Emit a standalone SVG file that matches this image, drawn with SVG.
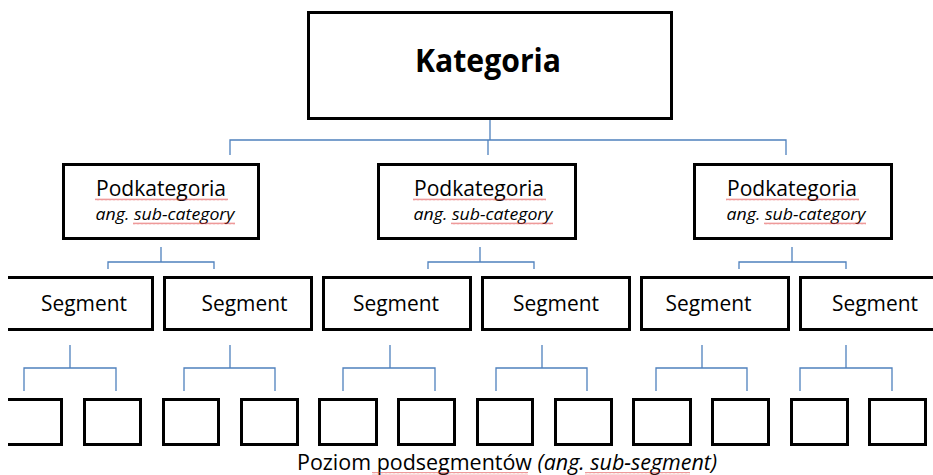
<svg xmlns="http://www.w3.org/2000/svg" width="933" height="475" viewBox="0 0 933 475">
  <style>
    .box { fill: #ffffff; stroke: #000000; stroke-width: 3; }
    .open { fill: none; stroke: #000000; stroke-width: 3; }
    .conn { fill: none; stroke: #4f81bd; stroke-width: 1.3; }
    .t { font-family: "Open Sans", "Noto Sans", "Liberation Sans", sans-serif; fill: #000000; }
    .title { font-size: 32px; font-weight: bold; text-anchor: middle; }
    .sub { font-size: 21px; text-anchor: middle; }
    .note { font-size: 17px; font-style: italic; text-anchor: middle; }
    .seg { font-size: 21.5px; text-anchor: middle; }
    .foot { font-size: 21.5px; }
    .wavy { fill: url(#squiggle); opacity: 0.75; }
  </style>
  <defs>
    <pattern id="squiggle" x="0" y="0" width="4" height="3" patternUnits="userSpaceOnUse">
      <polyline points="0,2.4 1,0.6 2,2.4 3,0.6 4,2.4" fill="none" stroke="#e03c3c" stroke-width="0.7"/>
    </pattern>
  </defs>

  <rect width="933" height="475" fill="#ffffff"/>

  <!-- connectors -->
  <g id="connectors" class="conn">
    <path d="M490,120 V140 M230,155 V140 H786 V155 M488,140 V155"/>
    <path d="M161,247 V262 M108,269 V262 H214 V269"/>
    <path d="M480,247 V262 M428,269 V262 H534 V269"/>
    <path d="M792,247 V262 M739,269 V262 H846 V269"/>
    <path d="M70,345 V368 M24,391 V368 H116 V391"/>
    <path d="M230,345 V368 M184,391 V368 H275 V391"/>
    <path d="M390,345 V368 M343,391 V368 H435 V391"/>
    <path d="M542,345 V368 M496,391 V368 H587 V391"/>
    <path d="M702,345 V368 M656,391 V368 H747 V391"/>
    <path d="M846,345 V368 M800,391 V368 H892 V391"/>
  </g>

  <!-- top level -->
  <g id="kategoria">
    <rect class="box" x="308.5" y="12.5" width="363" height="106"/>
    <text class="t title" x="488" y="72" textLength="146" lengthAdjust="spacingAndGlyphs">Kategoria</text>
  </g>

  <!-- second level -->
  <g id="podkategoria-1">
    <rect class="box" x="63.5" y="164.5" width="195" height="74"/>
    <text class="t sub" x="161" y="196" textLength="130" lengthAdjust="spacingAndGlyphs">Podkategoria</text>
    <text class="t note" x="165" y="220" textLength="139" lengthAdjust="spacingAndGlyphs">ang. sub-category</text>
    <rect class="wavy" x="95" y="198" width="133" height="3"/>
    <rect class="wavy" x="133" y="222" width="102" height="3"/>
  </g>
  <g id="podkategoria-2">
    <rect class="box" x="378.5" y="164.5" width="197" height="74"/>
    <text class="t sub" x="479" y="196" textLength="130" lengthAdjust="spacingAndGlyphs">Podkategoria</text>
    <text class="t note" x="483" y="220" textLength="139" lengthAdjust="spacingAndGlyphs">ang. sub-category</text>
    <rect class="wavy" x="413" y="198" width="133" height="3"/>
    <rect class="wavy" x="451" y="222" width="102" height="3"/>
  </g>
  <g id="podkategoria-3">
    <rect class="box" x="694.5" y="164.5" width="197" height="74"/>
    <text class="t sub" x="792" y="196" textLength="130" lengthAdjust="spacingAndGlyphs">Podkategoria</text>
    <text class="t note" x="796" y="220" textLength="139" lengthAdjust="spacingAndGlyphs">ang. sub-category</text>
    <rect class="wavy" x="726" y="198" width="133" height="3"/>
    <rect class="wavy" x="764" y="222" width="102" height="3"/>
  </g>

  <!-- segments -->
  <g id="segment-1">
    <path class="open" d="M8,277.5 H152.5 V329.5 H8"/>
    <text class="t seg" x="84" y="311" textLength="86" lengthAdjust="spacingAndGlyphs">Segment</text>
  </g>
  <g id="segment-2">
    <rect class="box" x="164.5" y="277.5" width="147" height="52"/>
    <text class="t seg" x="244.5" y="311" textLength="86" lengthAdjust="spacingAndGlyphs">Segment</text>
  </g>
  <g id="segment-3">
    <rect class="box" x="323.5" y="277.5" width="147" height="52"/>
    <text class="t seg" x="396" y="311" textLength="86" lengthAdjust="spacingAndGlyphs">Segment</text>
  </g>
  <g id="segment-4">
    <rect class="box" x="482.5" y="277.5" width="147" height="52"/>
    <text class="t seg" x="556" y="311" textLength="86" lengthAdjust="spacingAndGlyphs">Segment</text>
  </g>
  <g id="segment-5">
    <rect class="box" x="641.5" y="277.5" width="147" height="52"/>
    <text class="t seg" x="708.5" y="311" textLength="86" lengthAdjust="spacingAndGlyphs">Segment</text>
  </g>
  <g id="segment-6">
    <path class="open" d="M935,277.5 H800.5 V329.5 H935"/>
    <text class="t seg" x="875" y="311" textLength="86" lengthAdjust="spacingAndGlyphs">Segment</text>
  </g>

  <!-- sub-segments -->
  <g id="subsegment-1"><path class="open" d="M8,399.5 H61.5 V444.5 H8"/></g>
  <g id="subsegment-2"><rect class="box" x="84.5" y="399.5" width="56" height="45"/></g>
  <g id="subsegment-3"><rect class="box" x="163.5" y="399.5" width="55" height="45"/></g>
  <g id="subsegment-4"><rect class="box" x="241.5" y="399.5" width="56" height="45"/></g>
  <g id="subsegment-5"><rect class="box" x="319.5" y="399.5" width="57" height="45"/></g>
  <g id="subsegment-6"><rect class="box" x="398.5" y="399.5" width="56" height="45"/></g>
  <g id="subsegment-7"><rect class="box" x="477.5" y="399.5" width="55" height="45"/></g>
  <g id="subsegment-8"><rect class="box" x="555.5" y="399.5" width="56" height="45"/></g>
  <g id="subsegment-9"><rect class="box" x="633.5" y="399.5" width="57" height="45"/></g>
  <g id="subsegment-10"><rect class="box" x="712.5" y="399.5" width="56" height="45"/></g>
  <g id="subsegment-11"><rect class="box" x="791.5" y="399.5" width="56" height="45"/></g>
  <g id="subsegment-12"><rect class="box" x="869.5" y="399.5" width="56" height="45"/></g>

  <!-- level caption -->
  <g id="caption">
    <text class="t foot" x="297" y="470" textLength="420" lengthAdjust="spacingAndGlyphs">Poziom podsegmentów <tspan font-style="italic">(ang.  sub-segment)</tspan></text>
    <rect class="wavy" x="372" y="472" width="156" height="3"/>
    <rect class="wavy" x="585" y="472" width="105" height="3"/>
  </g>
</svg>
